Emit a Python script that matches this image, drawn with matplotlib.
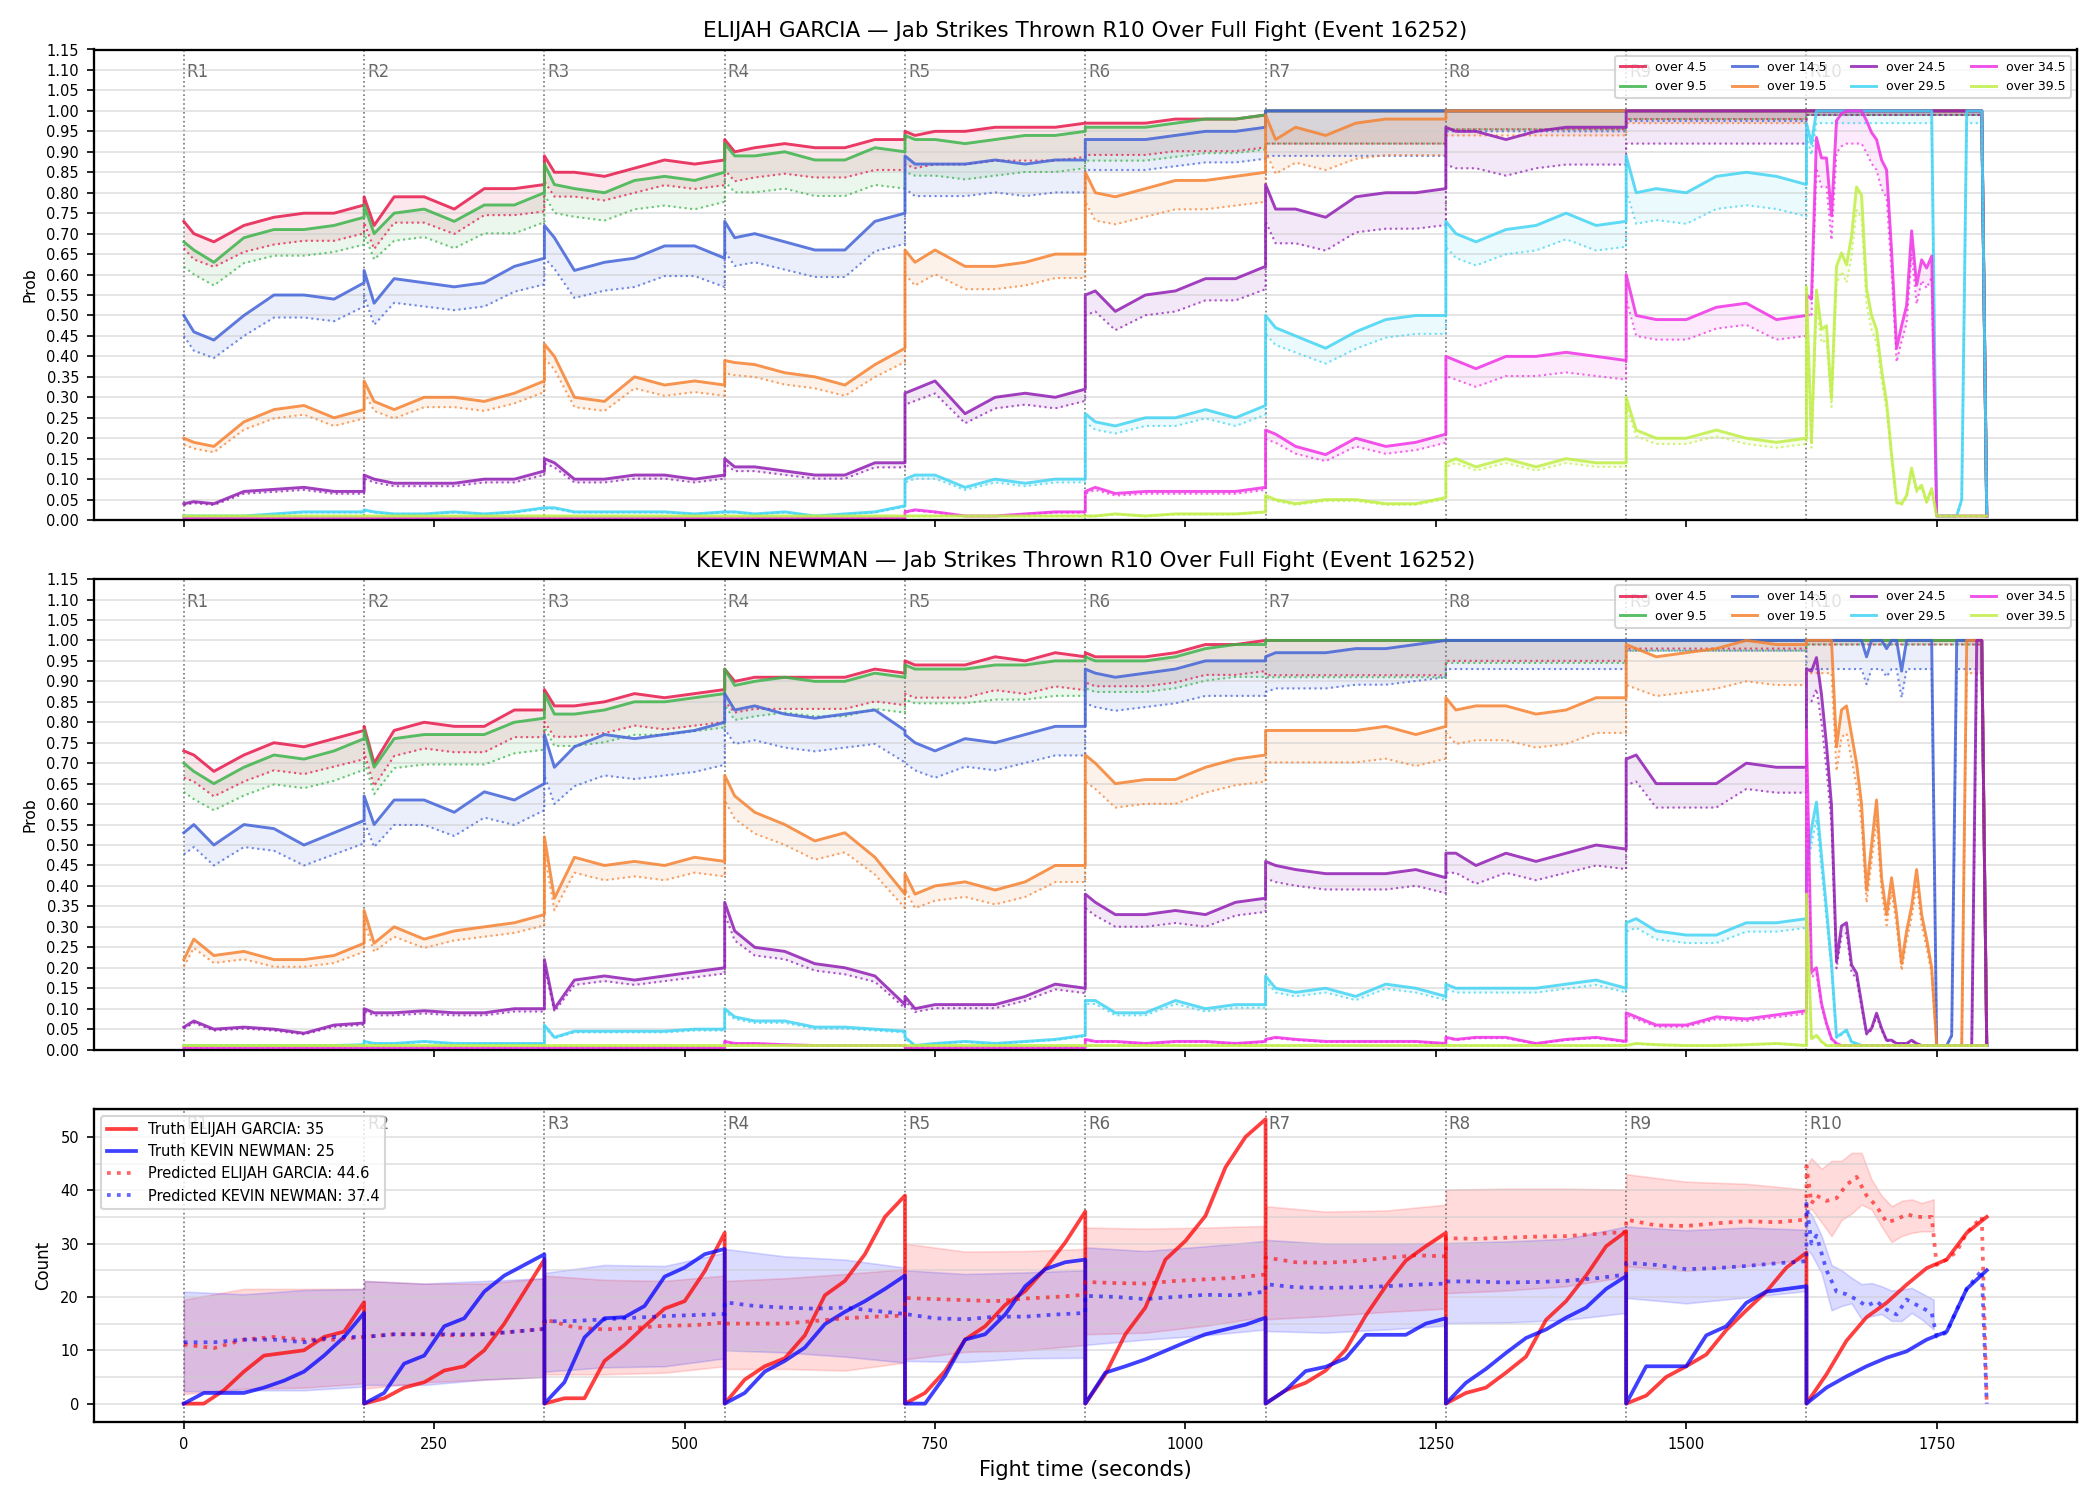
import matplotlib
matplotlib.use("Agg")
import matplotlib.pyplot as plt
import numpy as np
from matplotlib.ticker import FormatStrFormatter, MultipleLocator

ROUND_LEN = 180
ROUND_NAMES = ["R1", "R2", "R3", "R4", "R5", "R6", "R7", "R8", "R9", "R10"]

THRESHOLDS = ["4.5", "9.5", "14.5", "19.5", "24.5", "29.5", "34.5", "39.5"]
LINE_COLORS = ["#e6194b", "#3cb44b", "#4363d8", "#f58231",
               "#911eb4", "#42d4f4", "#f032e6", "#bfef45"]

# seconds from round start for rounds 1-9; round 10 is read every 5 s
PROB_REL_T = [0, 10, 30, 60, 90, 120, 150, 180]
PROB_R10_T = list(range(1620, 1801, 5))

# ---- ELIJAH GARCIA, P(over x), rounds 1-9 then round 10 ----
G45 = [[0.73, 0.70, 0.68, 0.72, 0.74, 0.75, 0.75, 0.77],
       [0.79, 0.72, 0.79, 0.79, 0.76, 0.81, 0.81, 0.82],
       [0.89, 0.85, 0.85, 0.84, 0.86, 0.88, 0.87, 0.88],
       [0.93, 0.90, 0.91, 0.92, 0.91, 0.91, 0.93, 0.93],
       [0.95, 0.94, 0.95, 0.95, 0.96, 0.96, 0.96, 0.97],
       [0.97, 0.97, 0.97, 0.97, 0.98, 0.98, 0.98, 0.99],
       [1.0] * 8, [1.0] * 8, [1.0] * 8]
G45_R10 = [1.0] * 36 + [0.01]
G95 = [[0.68, 0.66, 0.63, 0.69, 0.71, 0.71, 0.72, 0.74],
       [0.77, 0.70, 0.75, 0.76, 0.73, 0.77, 0.77, 0.80],
       [0.87, 0.82, 0.81, 0.80, 0.83, 0.84, 0.83, 0.85],
       [0.92, 0.89, 0.89, 0.90, 0.88, 0.88, 0.91, 0.90],
       [0.94, 0.93, 0.93, 0.92, 0.93, 0.94, 0.94, 0.95],
       [0.96, 0.96, 0.96, 0.96, 0.97, 0.98, 0.98, 0.99],
       [1.0] * 8, [1.0] * 8, [1.0] * 8]
G95_R10 = [1.0] * 36 + [0.01]
G145 = [[0.50, 0.46, 0.44, 0.50, 0.55, 0.55, 0.54, 0.58],
        [0.61, 0.53, 0.59, 0.58, 0.57, 0.58, 0.62, 0.64],
        [0.72, 0.69, 0.61, 0.63, 0.64, 0.67, 0.67, 0.64],
        [0.73, 0.69, 0.70, 0.68, 0.66, 0.66, 0.73, 0.75],
        [0.89, 0.87, 0.87, 0.87, 0.88, 0.87, 0.88, 0.88],
        [0.93, 0.93, 0.93, 0.93, 0.94, 0.95, 0.95, 0.96],
        [1.0] * 8, [1.0] * 8, [1.0] * 8]
G145_R10 = [1.0] * 36 + [0.01]
G195 = [[0.20, 0.19, 0.18, 0.24, 0.27, 0.28, 0.25, 0.27],
        [0.34, 0.29, 0.27, 0.30, 0.30, 0.29, 0.31, 0.34],
        [0.43, 0.40, 0.30, 0.29, 0.35, 0.33, 0.34, 0.33],
        [0.39, 0.385, 0.38, 0.36, 0.35, 0.33, 0.38, 0.42],
        [0.66, 0.63, 0.66, 0.62, 0.62, 0.63, 0.65, 0.65],
        [0.85, 0.80, 0.79, 0.81, 0.83, 0.83, 0.84, 0.85],
        [0.99, 0.93, 0.96, 0.94, 0.97, 0.98, 0.98, 0.98],
        [1.0] * 8, [1.0] * 8]
G195_R10 = [1.0] * 36 + [0.01]
G245 = [[0.04, 0.045, 0.04, 0.07, 0.075, 0.08, 0.07, 0.07],
        [0.11, 0.10, 0.09, 0.09, 0.09, 0.10, 0.10, 0.12],
        [0.15, 0.14, 0.10, 0.10, 0.11, 0.11, 0.10, 0.11],
        [0.15, 0.13, 0.13, 0.12, 0.11, 0.11, 0.14, 0.14],
        [0.31, 0.32, 0.34, 0.26, 0.30, 0.31, 0.30, 0.32],
        [0.55, 0.56, 0.51, 0.55, 0.56, 0.59, 0.59, 0.62],
        [0.82, 0.76, 0.76, 0.74, 0.79, 0.80, 0.80, 0.81],
        [0.96, 0.95, 0.95, 0.93, 0.95, 0.96, 0.96, 0.96],
        [1.0] * 8]
G245_R10 = [1.0] * 36 + [0.01]
G295 = [[0.01, 0.01, 0.01, 0.01, 0.015, 0.02, 0.02, 0.02],
        [0.025, 0.02, 0.015, 0.015, 0.02, 0.015, 0.02, 0.03],
        [0.03, 0.03, 0.02, 0.02, 0.02, 0.02, 0.015, 0.02],
        [0.02, 0.02, 0.015, 0.02, 0.01, 0.015, 0.02, 0.035],
        [0.10, 0.11, 0.11, 0.08, 0.10, 0.09, 0.10, 0.10],
        [0.26, 0.24, 0.23, 0.25, 0.25, 0.27, 0.25, 0.28],
        [0.50, 0.47, 0.45, 0.42, 0.46, 0.49, 0.50, 0.50],
        [0.73, 0.70, 0.68, 0.71, 0.72, 0.75, 0.72, 0.73],
        [0.89, 0.80, 0.81, 0.80, 0.84, 0.85, 0.84, 0.82]]
G295_R10 = [0.97, 0.92] + [1.0] * 24 + [0.01] * 5 + [0.05] + [1.0] * 4 + [0.01]
G345 = [[0.005] * 8, [0.005] * 8, [0.005] * 8, [0.005] * 8,
        [0.02, 0.025, 0.02, 0.01, 0.01, 0.015, 0.02, 0.02],
        [0.07, 0.08, 0.065, 0.07, 0.07, 0.07, 0.07, 0.08],
        [0.22, 0.21, 0.18, 0.16, 0.20, 0.18, 0.19, 0.21],
        [0.40, 0.39, 0.37, 0.40, 0.40, 0.41, 0.40, 0.39],
        [0.60, 0.50, 0.49, 0.49, 0.52, 0.53, 0.49, 0.50]]
G345_R10 = [0.55, 0.54, 0.935, 0.885, 0.885, 0.744, 0.976, 0.993, 1.0, 1.0,
            1.0, 1.0, 0.976, 0.947, 0.93, 0.88, 0.856, 0.657, 0.42, 0.475,
            0.524, 0.707, 0.574, 0.636, 0.616, 0.645] + [0.01] * 11
G395 = [[0.01] * 8, [0.01] * 8, [0.01] * 8, [0.01] * 8, [0.01] * 8,
        [0.01, 0.01, 0.015, 0.01, 0.015, 0.015, 0.015, 0.02],
        [0.06, 0.05, 0.04, 0.05, 0.05, 0.04, 0.04, 0.055],
        [0.14, 0.15, 0.13, 0.15, 0.13, 0.15, 0.14, 0.14],
        [0.30, 0.22, 0.20, 0.20, 0.22, 0.20, 0.19, 0.20]]
G395_R10 = [0.57, 0.19, 0.562, 0.466, 0.475, 0.297, 0.62, 0.653, 0.624, 0.694,
            0.814, 0.794, 0.566, 0.50, 0.466, 0.367, 0.288, 0.16, 0.044, 0.04,
            0.06, 0.127, 0.073, 0.085, 0.044, 0.077] + [0.01] * 11

# dotted line / solid line, per threshold and round
G_DOT_RATIO = [[0.91, 0.92, 0.93, 0.92, 0.915, 0.92, 0.92, 0.955, 0.98, 0.99],
               [0.91, 0.91, 0.915, 0.90, 0.905, 0.915, 0.92, 0.955, 0.98, 0.99],
               [0.90, 0.90, 0.89, 0.90, 0.91, 0.92, 0.89, 0.95, 0.975, 0.99],
               [0.92, 0.92, 0.92, 0.92, 0.91, 0.915, 0.91, 0.94, 0.97, 0.99],
               [0.92, 0.92, 0.92, 0.92, 0.91, 0.91, 0.89, 0.905, 0.92, 0.99],
               [0.92, 0.92, 0.92, 0.92, 0.92, 0.92, 0.91, 0.915, 0.905, 0.97],
               [0.92, 0.92, 0.92, 0.92, 0.92, 0.92, 0.90, 0.88, 0.90, 0.92],
               [0.93, 0.93, 0.93, 0.93, 0.93, 0.93, 0.93, 0.93, 0.93, 0.93]]

# ---- KEVIN NEWMAN ----
N45 = [[0.73, 0.72, 0.68, 0.72, 0.75, 0.74, 0.76, 0.78],
       [0.79, 0.70, 0.78, 0.80, 0.79, 0.79, 0.83, 0.83],
       [0.88, 0.84, 0.84, 0.85, 0.87, 0.86, 0.87, 0.88],
       [0.93, 0.90, 0.91, 0.91, 0.91, 0.91, 0.93, 0.92],
       [0.95, 0.94, 0.94, 0.94, 0.96, 0.95, 0.97, 0.96],
       [0.97, 0.96, 0.96, 0.96, 0.97, 0.99, 0.99, 1.0],
       [1.0] * 8, [1.0] * 8, [1.0] * 8]
N45_R10 = [1.0] * 36 + [0.01]
N95 = [[0.70, 0.68, 0.65, 0.69, 0.72, 0.71, 0.73, 0.76],
       [0.78, 0.69, 0.76, 0.77, 0.77, 0.77, 0.80, 0.81],
       [0.87, 0.82, 0.82, 0.83, 0.85, 0.85, 0.86, 0.87],
       [0.93, 0.89, 0.90, 0.91, 0.90, 0.90, 0.92, 0.91],
       [0.94, 0.93, 0.93, 0.93, 0.94, 0.94, 0.95, 0.95],
       [0.96, 0.95, 0.95, 0.95, 0.96, 0.98, 0.99, 0.99],
       [1.0] * 8, [1.0] * 8, [1.0] * 8]
N95_R10 = [1.0] * 36 + [0.01]
N145 = [[0.53, 0.55, 0.50, 0.55, 0.54, 0.50, 0.53, 0.56],
        [0.62, 0.55, 0.61, 0.61, 0.58, 0.63, 0.61, 0.65],
        [0.77, 0.69, 0.74, 0.77, 0.76, 0.77, 0.78, 0.80],
        [0.87, 0.83, 0.84, 0.82, 0.81, 0.82, 0.83, 0.78],
        [0.77, 0.75, 0.73, 0.76, 0.75, 0.77, 0.79, 0.79],
        [0.93, 0.92, 0.91, 0.92, 0.93, 0.95, 0.95, 0.95],
        [0.96, 0.97, 0.97, 0.97, 0.98, 0.98, 0.99, 1.0],
        [1.0] * 8, [1.0] * 8]
N145_R10 = ([1.0] * 12 + [0.96] + [1.0] * 3 + [0.98] + [1.0] * 2 + [0.925]
            + [1.0] * 6 + [0.01] * 3 + [0.035] + [1.0] * 6 + [0.01])
N195 = [[0.22, 0.27, 0.23, 0.24, 0.22, 0.22, 0.23, 0.26],
        [0.34, 0.26, 0.30, 0.27, 0.29, 0.30, 0.31, 0.33],
        [0.52, 0.37, 0.47, 0.45, 0.46, 0.45, 0.47, 0.46],
        [0.67, 0.62, 0.58, 0.55, 0.51, 0.53, 0.47, 0.38],
        [0.43, 0.38, 0.40, 0.41, 0.39, 0.41, 0.45, 0.45],
        [0.72, 0.70, 0.65, 0.66, 0.66, 0.69, 0.71, 0.72],
        [0.78, 0.78, 0.78, 0.78, 0.78, 0.79, 0.77, 0.79],
        [0.86, 0.83, 0.84, 0.84, 0.82, 0.83, 0.86, 0.86],
        [0.99, 0.98, 0.96, 0.97, 0.98, 1.0, 0.99, 0.99]]
N195_R10 = ([1.0] * 6 + [0.74, 0.83, 0.84, 0.77, 0.70, 0.60, 0.39, 0.50, 0.61, 0.42,
                         0.33, 0.42, 0.33, 0.21, 0.29, 0.35, 0.44, 0.33, 0.27, 0.20]
            + [0.01] * 6 + [1.0] * 4 + [0.01])
N245 = [[0.055, 0.07, 0.05, 0.055, 0.05, 0.04, 0.06, 0.065],
        [0.10, 0.09, 0.09, 0.095, 0.09, 0.09, 0.10, 0.10],
        [0.22, 0.10, 0.17, 0.18, 0.17, 0.18, 0.19, 0.20],
        [0.36, 0.29, 0.25, 0.24, 0.21, 0.20, 0.18, 0.11],
        [0.13, 0.10, 0.11, 0.11, 0.11, 0.13, 0.16, 0.15],
        [0.38, 0.36, 0.33, 0.33, 0.34, 0.33, 0.36, 0.37],
        [0.46, 0.45, 0.44, 0.43, 0.43, 0.43, 0.44, 0.42],
        [0.48, 0.48, 0.45, 0.48, 0.46, 0.48, 0.50, 0.49],
        [0.71, 0.72, 0.65, 0.65, 0.65, 0.70, 0.69, 0.69]]
N245_R10 = ([0.93, 0.925, 0.958, 0.868, 0.745, 0.597, 0.216, 0.302, 0.31, 0.207,
             0.187, 0.113, 0.04, 0.052, 0.089, 0.052, 0.023, 0.023, 0.015, 0.015,
             0.015, 0.023, 0.015, 0.01] + [0.01] * 10 + [1.0, 1.0, 0.01])
N295 = [[0.01, 0.01, 0.01, 0.01, 0.01, 0.01, 0.01, 0.012],
        [0.02, 0.015, 0.015, 0.02, 0.015, 0.015, 0.015, 0.015],
        [0.06, 0.03, 0.045, 0.045, 0.045, 0.045, 0.05, 0.05],
        [0.10, 0.08, 0.07, 0.07, 0.055, 0.055, 0.05, 0.045],
        [0.03, 0.01, 0.015, 0.02, 0.015, 0.02, 0.025, 0.035],
        [0.12, 0.12, 0.09, 0.09, 0.12, 0.10, 0.11, 0.11],
        [0.18, 0.15, 0.14, 0.15, 0.13, 0.16, 0.15, 0.13],
        [0.16, 0.15, 0.15, 0.15, 0.15, 0.16, 0.17, 0.15],
        [0.31, 0.32, 0.29, 0.28, 0.28, 0.31, 0.31, 0.32]]
N295_R10 = [0.45, 0.54, 0.605, 0.474, 0.343, 0.21, 0.031, 0.039, 0.048, 0.019,
            0.015] + [0.01] * 26
N345 = [[0.005] * 8, [0.005] * 8, [0.005] * 8,
        [0.02, 0.015, 0.015, 0.012, 0.01, 0.01, 0.01, 0.01],
        [0.005] * 8,
        [0.025, 0.02, 0.02, 0.015, 0.02, 0.02, 0.015, 0.02],
        [0.025, 0.03, 0.025, 0.02, 0.02, 0.02, 0.02, 0.015],
        [0.03, 0.025, 0.03, 0.03, 0.015, 0.025, 0.03, 0.02],
        [0.09, 0.08, 0.06, 0.06, 0.08, 0.075, 0.085, 0.095]]
N345_R10 = [0.78, 0.19, 0.20, 0.113, 0.064, 0.027, 0.015] + [0.01] * 30
N395 = [[0.01] * 8, [0.01] * 8, [0.01] * 8, [0.01] * 8, [0.01] * 8,
        [0.01] * 8, [0.01] * 8, [0.01] * 8,
        [0.01, 0.015, 0.012, 0.01, 0.01, 0.012, 0.015, 0.01]]
N395_R10 = [0.38, 0.027, 0.035, 0.02] + [0.01] * 33

N_DOT_RATIO = [[0.91, 0.92, 0.91, 0.915, 0.915, 0.925, 0.915, 0.95, 0.98, 0.99],
               [0.90, 0.905, 0.905, 0.905, 0.91, 0.92, 0.91, 0.945, 0.975, 0.99],
               [0.90, 0.90, 0.87, 0.90, 0.91, 0.91, 0.91, 0.93, 0.975, 0.93],
               [0.92, 0.92, 0.92, 0.91, 0.91, 0.91, 0.90, 0.90, 0.90, 0.92],
               [0.93, 0.93, 0.93, 0.92, 0.92, 0.91, 0.91, 0.90, 0.91, 0.92],
               [0.93] * 10, [0.93] * 10, [0.93] * 10]

# ---- counts panel ----
TRUTH_REL_T = [0, 20, 40, 60, 80, 100, 120, 140, 160, 180]
GARCIA_TRUTH = [[0, 0, 2.5, 6, 9, 9.5, 10, 12.5, 13.5, 19],
                [0, 1, 3, 4, 6.2, 7, 10, 15, 21, 27],
                [0, 1, 1, 8, 11, 14.5, 17.8, 19.2, 24.8, 32],
                [0, 4.5, 7, 8.5, 12.8, 20.3, 23, 28, 35, 39],
                [0, 2, 6.1, 12, 14.5, 18.5, 21.1, 25.3, 30.2, 36],
                [0, 5.5, 13, 18, 27, 30.5, 35.2, 44.3, 50, 53.3],
                [0, 2.5, 3.9, 6.2, 10.1, 16.5, 22, 26.8, 29.5, 32],
                [0, 2, 3, 5.8, 8.8, 15.7, 19.2, 24, 29.5, 32.3],
                [0, 1.5, 5, 7, 9.2, 13.8, 17.5, 21, 25.5, 28.3],
                [0, 5.5, 11.8, 16.2, 18.9, 22.3, 25.4, 27, 32, 35]]
NEWMAN_TRUTH = [[0, 2, 2, 2, 3, 4.3, 6, 9, 12.5, 17],
                [0, 2, 7.5, 9, 14.5, 16, 21, 24, 26, 28],
                [0, 4, 12.4, 16, 16.2, 18.3, 23.8, 25.5, 28, 29],
                [0, 2, 6, 8, 10.5, 14.9, 17.2, 19.2, 21.5, 24],
                [0, 0, 5.2, 12, 13, 16.7, 22, 25.2, 26.5, 27],
                [0, 5.8, 7, 8.3, 9.9, 11.5, 13, 13.9, 14.8, 16.1],
                [0, 2.5, 6.1, 6.9, 8.5, 12.9, 12.9, 12.9, 15, 16],
                [0, 3.9, 6.5, 9.5, 12.3, 13.9, 16.1, 18, 21.5, 23.9],
                [0, 7, 7, 7, 12.8, 14.5, 18.9, 21, 21.5, 22],
                [0, 3, 5.1, 7, 8.6, 9.8, 12, 13.5, 21.5, 25]]

PRED_REL_T = [0, 30, 60, 90, 120, 150, 180]
PRED_R10_T = [1620, 1625, 1630, 1640, 1650, 1660, 1670, 1680, 1690, 1700,
              1710, 1720, 1730, 1745, 1750, 1760, 1770, 1780, 1795, 1800]
GARCIA_PRED = [[11.1, 10.4, 12, 12.5, 12, 12, 12.5],
               [12.5, 13, 13, 12.8, 13, 13.5, 14],
               [15.8, 14.3, 13.9, 14.2, 14.6, 14.7, 15.2],
               [15, 15, 15, 15.5, 16, 16.3, 16.5],
               [19.8, 19.6, 19.4, 19.2, 19.7, 20, 20.4],
               [22.8, 22.6, 22.5, 23, 23.3, 23.6, 24.2],
               [27.4, 26.5, 26.4, 26.7, 27.3, 27.8, 27.6],
               [31, 30.9, 31.1, 31.3, 31.4, 31.8, 32.2],
               [34.5, 33.4, 33.3, 33.8, 34.2, 34, 34.5]]
GARCIA_PRED_R10 = [44.5, 37.5, 39, 38, 38.5, 41, 42.5, 39, 37, 34,
                   34.5, 35.5, 35, 35, 26, 27, 28.5, 32, 35, 0]
NEWMAN_PRED = [[11.5, 11.5, 12, 12, 11.5, 12.5, 12.5],
               [12.5, 13, 13, 13, 13, 13.5, 14],
               [15.4, 15.5, 15.8, 16.1, 16.4, 16.6, 16.8],
               [19, 18.3, 18, 17.8, 18, 17.4, 16.8],
               [16.8, 16, 15.8, 16.3, 16.3, 16.7, 17],
               [20.2, 20, 19.6, 20, 20.4, 20.3, 21],
               [22.4, 21.8, 21.7, 21.8, 22, 22.3, 22.5],
               [22.9, 22.9, 22.7, 22.8, 23, 23.5, 24.2],
               [26.4, 26, 25.2, 25.4, 25.8, 26.3, 26.7]]
NEWMAN_PRED_R10 = [37.5, 30, 31.5, 25, 21, 20.5, 19.5, 18.3, 19.2, 17.6,
                   16.7, 19.5, 18.5, 17, 12.6, 13.3, 17.6, 21.5, 25, 0]

BAND_REL_T = [0, 60, 120, 180]
BAND_R10_T = [1620, 1625, 1635, 1645, 1655, 1665, 1675, 1685, 1695, 1705,
              1715, 1725, 1735, 1747]
GARCIA_BAND_HI = [[19.5, 21.5, 21.5, 21.5], [23, 22.5, 22.5, 23.5], [24, 23.2, 23, 24],
                  [23, 23.5, 24.3, 25.2], [30, 28.5, 28.6, 29], [33, 32.8, 33, 33.3],
                  [37, 36, 36.2, 37.3], [40.1, 40.3, 40.3, 40.1], [43, 41.6, 41.2, 40.1]]
GARCIA_BAND_LO = [[1.8, 2.8, 3, 3.8], [2.8, 4, 4.5, 5], [5.5, 5.5, 5.8, 7],
                  [6.5, 6.5, 6.2, 7.7], [8.3, 9.7, 10, 11], [13, 13.3, 14.6, 16.3],
                  [15.8, 16.4, 17.2, 17.8], [20.7, 21.2, 22, 23.8], [25.7, 24.9, 25.8, 27]]
GARCIA_BAND_HI_R10 = [44.5, 46, 44, 45.5, 45.5, 47, 47, 42, 39, 37, 38, 38.3, 37.6, 38.3]
GARCIA_BAND_LO_R10 = [36, 36.5, 34, 31.4, 34.4, 35.6, 37.3, 36.4, 33.2, 30.3, 31.4, 32, 32.3, 32.3]
NEWMAN_BAND_HI = [[21, 20.5, 21.3, 21.5], [23, 22.5, 23, 23.5], [24.5, 26, 25.8, 28.3],
                  [29, 27.6, 27, 25.5], [25, 24.3, 24.6, 25], [29.3, 28.6, 29.5, 30.5],
                  [30.7, 30, 30, 30.1], [30.1, 30.4, 30.9, 33.2], [33.2, 32.5, 33, 32.6]]
NEWMAN_BAND_LO = [[2.3, 2.5, 2.5, 3.2], [3.5, 3.5, 4.5, 5], [6, 6.8, 7, 8.5],
                  [10, 9.6, 8.8, 7.7], [8, 7.8, 8.5, 8.6], [11, 12, 12.8, 13.9],
                  [13.6, 13.3, 13.9, 14.6], [15.1, 15.2, 15.7, 17], [19.8, 18.8, 19.9, 21.1]]
NEWMAN_BAND_HI_R10 = [36.4, 35.5, 31.5, 26, 25, 23.6, 22.4, 22.6, 22, 21.2, 21.4, 21.7, 20.7, 19.5]
NEWMAN_BAND_LO_R10 = [29, 28, 24.5, 17.5, 18.3, 18.8, 15.8, 16.4, 16.8, 15.5, 15.5, 17, 15.8, 13.9]

GARCIA_FINAL_TRUTH, NEWMAN_FINAL_TRUTH = 35, 25
GARCIA_FINAL_PRED, NEWMAN_FINAL_PRED = 44.6, 37.4


def round_times(rel, n_rounds):
    return np.concatenate([r * ROUND_LEN + np.asarray(rel, float) for r in range(n_rounds)])


def stitch(rounds, last):
    return np.concatenate([np.ravel(np.asarray(rounds, float)), np.asarray(last, float)])


def add_round_marks(ax):
    for i, name in enumerate(ROUND_NAMES):
        x = i * ROUND_LEN
        ax.axvline(x, color="#555555", linestyle=":", linewidth=0.8, alpha=0.8, zorder=1)
        ax.text(x + 3, 0.952, name, transform=ax.get_xaxis_transform(),
                ha="left", va="center", fontsize=8, color="#666666", zorder=1)


def draw_prob_panel(ax, series, dot_ratio, title):
    x = np.concatenate([round_times(PROB_REL_T, 9), PROB_R10_T])
    n_last = len(PROB_R10_T)
    handles = []
    for (rounds, last), ratios, thr, color in zip(series, dot_ratio, THRESHOLDS, LINE_COLORS):
        solid = stitch(rounds, last)
        factor = np.concatenate([np.full(len(PROB_REL_T), r) for r in ratios[:9]]
                                + [np.full(n_last, ratios[9])])
        dotted = solid * factor
        ax.fill_between(x, dotted, solid, color=color, alpha=0.1, linewidth=0)
        ax.plot(x, dotted, linestyle=":", color=color, linewidth=1.0, alpha=0.75)
        (line,) = ax.plot(x, solid, color=color, linewidth=1.4, alpha=0.85,
                          label=f"over {thr}")
        handles.append(line)
    add_round_marks(ax)
    ax.set_ylim(0, 1.15)
    ax.yaxis.set_major_locator(MultipleLocator(0.05))
    ax.yaxis.set_major_formatter(FormatStrFormatter("%.2f"))
    ax.grid(axis="y", color="#cccccc", alpha=0.6, linewidth=0.8)
    ax.set_ylabel("Prob", fontsize=7.5)
    ax.set_title(title, fontsize=10.3)
    ax.legend(handles=handles, loc="upper right", ncol=4, fontsize=6)


fig, axes = plt.subplots(3, 1, figsize=(14, 10), sharex=True,
                         gridspec_kw={"height_ratios": [3, 3, 2]})
fig.subplots_adjust(left=0.0446, right=0.989, top=0.967, bottom=0.0518, hspace=0.141)

garcia_series = list(zip([G45, G95, G145, G195, G245, G295, G345, G395],
                         [G45_R10, G95_R10, G145_R10, G195_R10, G245_R10,
                          G295_R10, G345_R10, G395_R10]))
newman_series = list(zip([N45, N95, N145, N195, N245, N295, N345, N395],
                         [N45_R10, N95_R10, N145_R10, N195_R10, N245_R10,
                          N295_R10, N345_R10, N395_R10]))

draw_prob_panel(axes[0], garcia_series, G_DOT_RATIO,
                "ELIJAH GARCIA \u2014 Jab Strikes Thrown R10 Over Full Fight (Event 16252)")
draw_prob_panel(axes[1], newman_series, N_DOT_RATIO,
                "KEVIN NEWMAN \u2014 Jab Strikes Thrown R10 Over Full Fight (Event 16252)")

# counts panel
ax = axes[2]
truth_x = round_times(TRUTH_REL_T, 10)
pred_x = np.concatenate([round_times(PRED_REL_T, 9), PRED_R10_T])
band_x = np.concatenate([round_times(BAND_REL_T, 9), BAND_R10_T])

ax.fill_between(band_x, stitch(GARCIA_BAND_LO, GARCIA_BAND_LO_R10),
                stitch(GARCIA_BAND_HI, GARCIA_BAND_HI_R10), color="red", alpha=0.14, linewidth=0.8)
ax.fill_between(band_x, stitch(NEWMAN_BAND_LO, NEWMAN_BAND_LO_R10),
                stitch(NEWMAN_BAND_HI, NEWMAN_BAND_HI_R10), color="blue", alpha=0.14, linewidth=0.8)
ax.plot(truth_x, np.ravel(GARCIA_TRUTH), color="red", linewidth=1.8, alpha=0.75,
        label=f"Truth ELIJAH GARCIA: {GARCIA_FINAL_TRUTH}")
ax.plot(truth_x, np.ravel(NEWMAN_TRUTH), color="blue", linewidth=1.8, alpha=0.75,
        label=f"Truth KEVIN NEWMAN: {NEWMAN_FINAL_TRUTH}")
ax.plot(pred_x, stitch(GARCIA_PRED, GARCIA_PRED_R10), color="red", linestyle=":",
        linewidth=1.8, alpha=0.6, label=f"Predicted ELIJAH GARCIA: {GARCIA_FINAL_PRED}")
ax.plot(pred_x, stitch(NEWMAN_PRED, NEWMAN_PRED_R10), color="blue", linestyle=":",
        linewidth=1.8, alpha=0.6, label=f"Predicted KEVIN NEWMAN: {NEWMAN_FINAL_PRED}")
add_round_marks(ax)
ax.set_ylim(-3.5, 55.3)
ax.yaxis.set_major_locator(MultipleLocator(10))
ax.yaxis.set_minor_locator(MultipleLocator(5))
ax.tick_params(axis="y", which="minor", length=0)
ax.grid(axis="y", which="both", color="#cccccc", alpha=0.6, linewidth=0.8)
ax.set_ylabel("Count", fontsize=8)
ax.set_xlabel("Fight time (seconds)", fontsize=10)
ax.legend(loc="upper left", fontsize=7)

ax.set_xlim(-90, 1890)
ax.set_xticks([0, 250, 500, 750, 1000, 1250, 1500, 1750])
for a in axes:
    a.tick_params(labelsize=7)
    for s in a.spines.values():
        s.set_linewidth(1.1)

plt.savefig("out.png", dpi=150)
plt.close()
